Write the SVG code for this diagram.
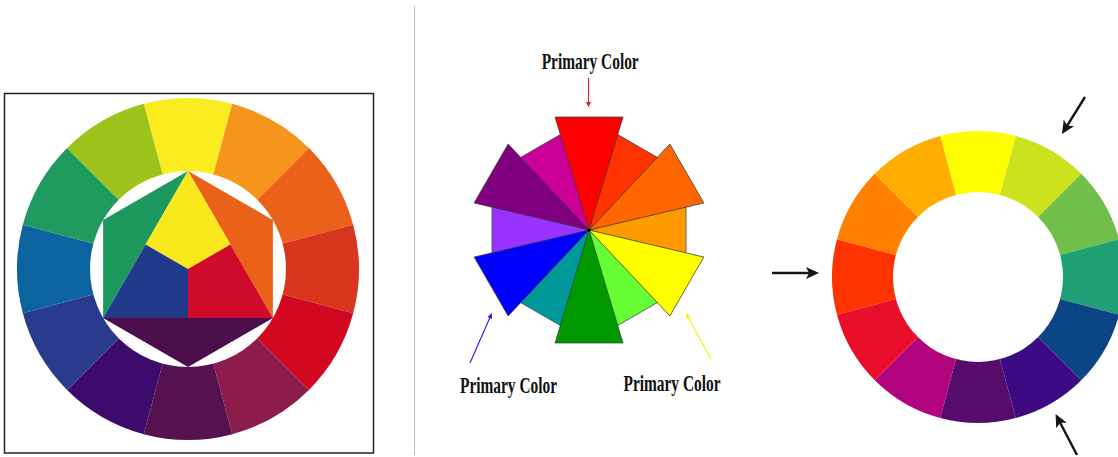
<svg xmlns="http://www.w3.org/2000/svg" width="1118" height="457" viewBox="0 0 1118 457">
<defs>
<style>
.lbl{font-family:"Liberation Serif","Times New Roman",serif;font-weight:bold;font-size:22.5px;fill:#111}
.mw{stroke:#3a3a3a;stroke-width:0.7;stroke-linejoin:round}
.thin{fill:none;stroke-width:1.1}
.blk{fill:none;stroke:#151515;stroke-width:2.4}
</style>
<marker id="ahR" markerUnits="userSpaceOnUse" markerWidth="6" markerHeight="6" refX="5" refY="3" orient="auto"><path d="M0,0.5 L5,3 L0,5.5 z" fill="#e21b1b"/></marker>
<marker id="ahB" markerUnits="userSpaceOnUse" markerWidth="6" markerHeight="6" refX="5" refY="3" orient="auto"><path d="M0,0.5 L5,3 L0,5.5 z" fill="#1a1aff"/></marker>
<marker id="ahY" markerUnits="userSpaceOnUse" markerWidth="6" markerHeight="6" refX="5" refY="3" orient="auto"><path d="M0,0.5 L5,3 L0,5.5 z" fill="#f5f500"/></marker>
<marker id="ahK" markerUnits="userSpaceOnUse" markerWidth="14" markerHeight="12" refX="9" refY="6" orient="auto"><path d="M0,0 L13,6 L0,12 L3,6 z" fill="#151515"/></marker>
</defs>
<rect width="1118" height="457" fill="#fff"/>

<g id="itten-wheel">
<rect x="4.5" y="93.5" width="369" height="359.5" fill="#fff" stroke="#222" stroke-width="1.5"/>
<g id="itten-ring">
<path d="M188,269 L143.74,103.83 A171,171 0 0,1 232.26,103.83 Z" fill="#fbec20"/>
<path d="M188,269 L232.26,103.83 A171,171 0 0,1 308.92,148.08 Z" fill="#f6951c"/>
<path d="M188,269 L308.92,148.08 A171,171 0 0,1 353.17,224.74 Z" fill="#ec611a"/>
<path d="M188,269 L353.17,224.74 A171,171 0 0,1 353.17,313.26 Z" fill="#d7351e"/>
<path d="M188,269 L353.17,313.26 A171,171 0 0,1 308.92,389.92 Z" fill="#d10820"/>
<path d="M188,269 L308.92,389.92 A171,171 0 0,1 232.26,434.17 Z" fill="#8b1c4c"/>
<path d="M188,269 L232.26,434.17 A171,171 0 0,1 143.74,434.17 Z" fill="#561150"/>
<path d="M188,269 L143.74,434.17 A171,171 0 0,1 67.08,389.92 Z" fill="#3c0b6c"/>
<path d="M188,269 L67.08,389.92 A171,171 0 0,1 22.83,313.26 Z" fill="#293b8c"/>
<path d="M188,269 L22.83,313.26 A171,171 0 0,1 22.83,224.74 Z" fill="#0b63a0"/>
<path d="M188,269 L22.83,224.74 A171,171 0 0,1 67.08,148.08 Z" fill="#1f9b60"/>
<path d="M188,269 L67.08,148.08 A171,171 0 0,1 143.74,103.83 Z" fill="#9dc31b"/>
<circle cx="188" cy="269" r="98" fill="#fff"/>
</g>
<g id="itten-inner">
<polygon points="188,171 103.13,220 103.13,318" fill="#1d995e"/>
<polygon points="188,171 272.87,220 272.87,318" fill="#ea6217"/>
<polygon points="103.13,318 188,367 272.87,318" fill="#4d0e4e"/>
<polygon points="188,171 230.43,244.5 188,269 145.57,244.5" fill="#f9e81c"/>
<polygon points="188,269 230.43,244.5 272.87,318 188,318" fill="#cf0a2b"/>
<polygon points="188,269 188,318 103.13,318 145.57,244.5" fill="#223a8a"/>
</g>
</g>

<line id="divider" x1="414.5" y1="6" x2="414.5" y2="455" stroke="#bdbdbd" stroke-width="1"/>

<g id="primary-wheel" transform="translate(589,230)">
<g id="tertiary">
<polygon class="mw" points="0,0 -26,-97 26,-97" transform="rotate(30)" fill="#ff3300"/>
<polygon class="mw" points="0,0 -26,-97 26,-97" transform="rotate(90)" fill="#ff9900"/>
<polygon class="mw" points="0,0 -26,-97 26,-97" transform="rotate(150)" fill="#66ff33"/>
<polygon class="mw" points="0,0 -26,-97 26,-97" transform="rotate(210)" fill="#009999"/>
<polygon class="mw" points="0,0 -26,-97 26,-97" transform="rotate(270)" fill="#9933ff"/>
<polygon class="mw" points="0,0 -26,-97 26,-97" transform="rotate(330)" fill="#cc0099"/>
</g>
<g id="primary-secondary">
<polygon class="mw" points="0,0 -34,-113 34,-113" fill="#ff0000"/>
<polygon class="mw" points="0,0 -34,-113 34,-113" transform="rotate(60)" fill="#ff6600"/>
<polygon class="mw" points="0,0 -34,-113 34,-113" transform="rotate(120)" fill="#ffff00"/>
<polygon class="mw" points="0,0 -34,-113 34,-113" transform="rotate(180)" fill="#009900"/>
<polygon class="mw" points="0,0 -34,-113 34,-113" transform="rotate(240)" fill="#0000ff"/>
<polygon class="mw" points="0,0 -34,-113 34,-113" transform="rotate(300)" fill="#800080"/>
</g>
<circle cx="0" cy="0" r="1.6" fill="#000"/>
</g>

<g id="labels">
<text id="label-top" class="lbl" x="541.7" y="68.5" textLength="97" lengthAdjust="spacingAndGlyphs">Primary Color</text>
<text id="label-left" class="lbl" x="460" y="392.5" textLength="97" lengthAdjust="spacingAndGlyphs">Primary Color</text>
<text id="label-right" class="lbl" x="623.5" y="390.5" textLength="97" lengthAdjust="spacingAndGlyphs">Primary Color</text>
</g>

<g id="modern-wheel">
<path d="M978,277 L940.21,135.98 A146,146 0 0,1 1015.79,135.98 Z" fill="#fefe00"/>
<path d="M978,277 L1015.79,135.98 A146,146 0 0,1 1081.24,173.76 Z" fill="#cbe21c"/>
<path d="M978,277 L1081.24,173.76 A146,146 0 0,1 1119.02,239.21 Z" fill="#70bf4a"/>
<path d="M978,277 L1119.02,239.21 A146,146 0 0,1 1119.02,314.79 Z" fill="#20a077"/>
<path d="M978,277 L1119.02,314.79 A146,146 0 0,1 1081.24,380.24 Z" fill="#0c4586"/>
<path d="M978,277 L1081.24,380.24 A146,146 0 0,1 1015.79,418.02 Z" fill="#3c0a82"/>
<path d="M978,277 L1015.79,418.02 A146,146 0 0,1 940.21,418.02 Z" fill="#560c6a"/>
<path d="M978,277 L940.21,418.02 A146,146 0 0,1 874.76,380.24 Z" fill="#b2047e"/>
<path d="M978,277 L874.76,380.24 A146,146 0 0,1 836.98,314.79 Z" fill="#e90f2a"/>
<path d="M978,277 L836.98,314.79 A146,146 0 0,1 836.98,239.21 Z" fill="#ff3300"/>
<path d="M978,277 L836.98,239.21 A146,146 0 0,1 874.76,173.76 Z" fill="#ff7f00"/>
<path d="M978,277 L874.76,173.76 A146,146 0 0,1 940.21,135.98 Z" fill="#ffad00"/>
<circle cx="978" cy="277" r="85" fill="#fff"/>
</g>

<g id="connectors">
<line class="thin" x1="588.5" y1="78" x2="588.5" y2="107" stroke="#e21b1b" marker-end="url(#ahR)"/>
<line class="thin" x1="470" y1="363" x2="491.7" y2="313.5" stroke="#1a1aff" marker-end="url(#ahB)"/>
<line class="thin" x1="711" y1="359" x2="686" y2="313.5" stroke="#f0f000" marker-end="url(#ahY)"/>
<line class="blk" x1="772" y1="273" x2="815" y2="273" marker-end="url(#ahK)"/>
<line class="blk" x1="1085" y1="97" x2="1064.1" y2="130.6" marker-end="url(#ahK)"/>
<line class="blk" x1="1077" y1="455" x2="1057.4" y2="417.5" marker-end="url(#ahK)"/>
</g>
</svg>
